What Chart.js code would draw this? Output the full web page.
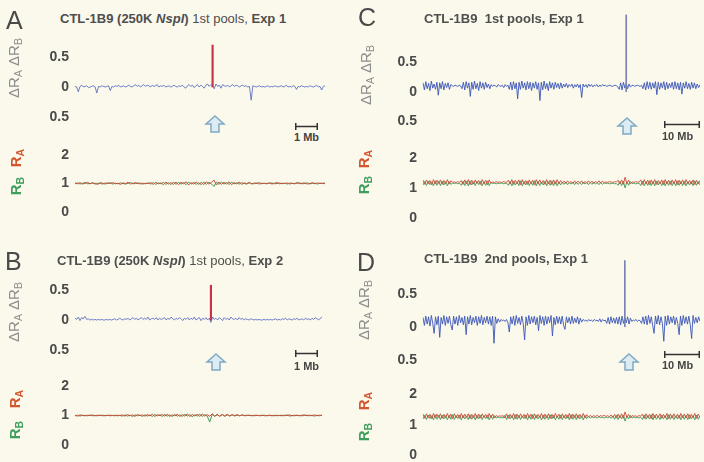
<!DOCTYPE html>
<html>
<head>
<meta charset="utf-8">
<script src="https://cdn.jsdelivr.net/npm/chart.js@4.4.0/dist/chart.umd.min.js"></script>
<style>
  body { margin: 0; background: #fbf9ec; }
  #fig { position: relative; width: 704px; height: 462px; overflow: hidden; background: #fbf9ec;
         font-family: 'Liberation Sans', Arial, sans-serif; }
  .plot { position: absolute; }
  .txt { position: absolute; white-space: nowrap; line-height: 1; }
  .letter { font-size: 25px; color: #4a4a4a; }
  .title { font-size: 13px; color: #4e4e4e; }
  .rot { position: absolute; white-space: nowrap; line-height: 1; transform: translate(-50%, -50%) rotate(-90deg); }
  .rot sub { font-size: 70%; vertical-align: -3px; }
  .dlab { font-size: 15px; color: #8c8c8c; }
  .ra { font-size: 15px; font-weight: bold; color: #d4552e; }
  .rb { font-size: 15px; font-weight: bold; color: #3e9e5c; }
  .mb { font-size: 11px; font-weight: bold; color: #444; }
  svg { position: absolute; overflow: visible; }
</style>
</head>
<body>
<div id="fig">
  <div class="txt letter" style="left:6px;top:8px">A</div>
  <div class="txt letter" style="left:358px;top:5px">C</div>
  <div class="txt letter" style="left:5px;top:249px">B</div>
  <div class="txt letter" style="left:357px;top:250px">D</div>

  <div class="txt title" style="left:60px;top:12px"><b>CTL-1B9 (250K <i>NspI</i>)</b> 1st pools, <b>Exp 1</b></div>
  <div class="txt title" style="left:424px;top:12px"><b>CTL-1B9&nbsp; 1st pools, Exp 1</b></div>
  <div class="txt title" style="left:57px;top:254px"><b>CTL-1B9 (250K <i>NspI</i>)</b> 1st pools, <b>Exp 2</b></div>
  <div class="txt title" style="left:424px;top:252px"><b>CTL-1B9&nbsp; 2nd pools, Exp 1</b></div>

  <div class="rot dlab" style="left:15px;top:68px">ΔR<sub>A</sub> ΔR<sub>B</sub></div>
  <div class="rot dlab" style="left:367px;top:75px">ΔR<sub>A</sub> ΔR<sub>B</sub></div>
  <div class="rot dlab" style="left:15px;top:312px">ΔR<sub>A</sub> ΔR<sub>B</sub></div>
  <div class="rot dlab" style="left:365px;top:310px">ΔR<sub>A</sub> ΔR<sub>B</sub></div>

  <div class="rot ra" style="left:17px;top:158px">R<sub>A</sub></div>
  <div class="rot rb" style="left:17px;top:186px">R<sub>B</sub></div>
  <div class="rot ra" style="left:365px;top:159px">R<sub>A</sub></div>
  <div class="rot rb" style="left:365px;top:185px">R<sub>B</sub></div>
  <div class="rot ra" style="left:16px;top:399px">R<sub>A</sub></div>
  <div class="rot rb" style="left:16px;top:430px">R<sub>B</sub></div>
  <div class="rot ra" style="left:365px;top:401px">R<sub>A</sub></div>
  <div class="rot rb" style="left:365px;top:432px">R<sub>B</sub></div>

  <div class="txt mb" style="left:294px;top:132px">1 Mb</div>
  <div class="txt mb" style="left:662px;top:131px">10 Mb</div>
  <div class="txt mb" style="left:294px;top:361px">1 Mb</div>
  <div class="txt mb" style="left:662px;top:360px">10 Mb</div>
</div>

<script>
// x = probe index along the chromosome window, y = signal
var aDelta = [.01,.00,-.08,.01,.03,.00,.01,.02,-.01,.00,
  .01,.02,.00,-.10,.01,.00,.02,.01,.00,.01,
  .02,-.06,.01,.00,.02,.01,.03,.00,.01,.02,
  .00,.01,.03,.01,.00,.02,.04,.01,.03,.00,
  .02,.04,.01,.03,.02,.00,.03,.01,.02,.04,
  .00,.02,.01,.03,.00,.01,.02,.00,.01,.03,
  .01,.00,.02,.01,.03,.00,-.02,.02,.04,.01,
  .03,-.01,.02,.04,.00,.03,.01,-.02,.03,.05,
  .01,.04,.02,-.03,.05,.01,.03,-.02,.04,.02,
  .01,.03,.00,.02,.04,.01,.03,.02,.00,.02,
  .03,.01,.02,.00,.01,-.22,.02,.01,.00,.01,
  .02,.00,.01,.00,.01,.02,.00,.01,.00,.02,
  .01,.00,.01,.02,.00,.01,.03,.00,.01,.00,
  .02,.01,-.04,.01,.00,.02,.01,.00,.01,.00,
  .02,.01,.00,.01,.03,.00,.01,-.05,.01,.02];
var aRatioA = [1.02,0.99,1.03,0.98,1.01,1.04,0.99,1.02,1.00,0.97,
  1.03,1.01,0.98,1.02,1.00,1.03,0.99,1.01,0.97,1.02,
  1.00,1.04,0.98,1.01,1.03,0.99,1.02,0.98,1.01,1.00,
  1.03,0.97,1.04,0.99,1.02,0.96,1.05,0.98,1.03,0.97,
  1.05,0.96,1.04,0.99,1.06,0.95,1.03,0.98,1.05,0.97,
  1.04,0.96,1.06,0.98,1.03,1.12,0.95,1.05,0.97,1.04,
  0.98,1.06,0.96,1.03,0.99,1.05,0.97,1.02,1.00,1.04,
  0.98,1.02,1.00,1.03,0.99,1.01,1.00,1.02,0.98,1.01,
  1.03,0.99,1.01,1.00,1.02,0.98,1.01,1.00,1.03,0.99,
  1.01,1.02,0.98,1.00,1.03,0.99,1.02,1.00,1.01,0.99];
var aRatioB = [0.99,1.02,0.98,1.01,1.03,0.99,1.00,1.02,0.98,1.01,
  1.00,0.98,1.02,1.00,1.03,0.98,1.01,0.99,1.02,1.00,
  0.98,1.01,1.03,0.99,1.00,1.02,0.98,1.01,0.99,1.02,
  0.98,1.03,0.97,1.02,0.99,1.04,0.97,1.03,0.96,1.05,
  0.97,1.04,0.98,1.03,0.96,1.05,0.98,1.04,0.97,1.03,
  0.96,1.05,0.97,1.04,0.99,0.90,1.04,0.97,1.05,0.98,
  1.03,0.97,1.04,0.99,1.02,0.98,1.03,1.00,0.98,1.02,
  1.00,0.99,1.02,0.98,1.01,1.00,0.99,1.01,1.02,0.99,
  1.00,1.02,0.99,1.01,0.98,1.02,1.00,0.99,1.01,1.02,
  0.99,1.00,1.02,0.99,1.00,1.01,0.98,1.01,1.00,1.02];

var bDelta = [.03,.01,.05,-.01,.04,.02,.06,.01,.02,.00,
  .01,.00,.01,.00,.01,.00,.01,.00,.00,.01,
  .00,.01,.00,.01,.02,.00,.01,.03,.01,.00,
  .02,.01,.03,.00,.02,.04,.01,.03,.00,.02,
  .04,.01,.03,.01,.05,.00,.02,.03,.01,.04,
  .00,.03,.01,.02,.04,.00,.03,.01,.05,.02,
  .00,.03,.01,.04,.02,-.01,.03,.01,.04,.00,
  .03,.01,.05,.00,.02,.04,-.01,.03,.01,.04,
  .00,.03,-.04,.05,.01,.03,.00,.04,.02,-.01,
  .04,.01,.03,.00,.05,.02,.01,.03,.00,.04,
  .01,.03,.00,.02,.01,.00,.02,.01,.00,.01,
  .00,.01,.00,.00,.01,.00,.01,.00,.01,.00,
  .01,.02,.00,.01,.00,.02,.01,.03,.00,.02,
  .01,.00,.02,.01,.03,.00,.01,.02,.00,.03,
  .01,.02,.00,.03,.01,.04,.02,.00,.03,.05];
var bRatioA = [1.01,0.98,1.02,1.00,0.99,1.01,1.00,1.02,0.99,1.01,
  1.00,1.01,0.99,1.00,1.01,1.00,0.99,1.01,1.00,1.02,
  0.98,1.03,0.99,1.02,0.97,1.03,1.00,1.02,0.98,1.03,
  0.99,1.04,0.97,1.02,1.00,1.03,0.98,1.04,0.97,1.02,
  0.99,1.04,0.97,1.03,0.98,1.05,0.97,1.03,0.99,1.04,
  0.97,1.05,0.98,1.03,0.97,1.06,0.98,1.04,0.97,1.03,
  0.99,1.04,0.98,1.02,1.00,1.03,0.99,1.02,1.00,1.01,
  1.00,0.99,1.01,1.00,1.00,1.01,0.99,1.00,1.01,1.00,
  0.99,1.01,1.00,0.99,1.01,1.00,1.02,0.99,1.01,1.00,
  0.99,1.01,1.02,0.99,1.01,1.00,1.02,0.99,1.01,1.00];
var bRatioB = [0.99,1.01,0.98,1.01,1.00,0.99,1.01,0.99,1.00,0.99,
  1.01,0.99,1.00,1.01,0.99,1.00,1.01,0.99,1.00,0.98,
  1.02,0.98,1.01,0.97,1.02,0.99,1.01,0.97,1.02,0.98,
  1.02,0.97,1.03,0.99,1.02,0.97,1.03,0.98,1.02,0.97,
  1.03,0.98,1.02,0.97,1.04,0.98,1.03,0.96,1.02,0.98,
  1.04,0.97,1.03,0.98,0.78,1.04,0.97,1.02,0.98,1.04,
  0.97,1.02,0.99,1.03,0.98,1.01,0.99,1.02,0.99,1.00,
  1.01,1.00,0.99,1.01,0.99,1.00,1.01,0.99,1.00,0.99,
  1.01,0.99,1.00,1.01,0.99,1.02,0.98,1.00,0.99,1.01,
  1.00,0.99,1.00,1.01,0.99,1.00,0.98,1.01,0.99,1.01];

var cDelta = [.15,.03,.17,.05,.14,.02,.18,.06,.13,.04,
  .16,-.06,.15,.05,.17,.03,.14,.07,.15,.04,
  .12,.10,.09,.11,.10,.09,.11,.10,.05,.16,
  .03,.17,.06,.15,-.08,.16,.04,.18,.05,.14,
  .02,.17,.06,.15,.04,.16,.07,.13,.05,.12,
  .09,.11,.10,.08,.12,.10,.09,.11,.07,.12,
  .09,.11,.04,.16,.03,.17,.05,.15,-.12,.16,
  .04,.18,.06,.15,.03,.17,.05,.16,.02,.15,
  .06,.17,.04,.15,-.15,.16,.03,.18,.05,.14,
  .02,.17,.06,.15,.04,.16,.07,.14,.05,.15,
  .06,.13,.08,.14,.07,.12,.09,.13,.06,.12,
  .08,.13,.07,.12,-.10,.13,.08,.12,.07,.13,
  .09,.12,.08,.11,.10,.12,.08,.11,.09,.12,
  .10,.11,.09,.10,.11,.10,.09,.10,.11,.10,
  .08,.04,.15,.03,.16,.06,.14,.05,.13,.08,
  .10,.11,.09,.10,.11,.10,.09,.11,.05,.15,
  .03,.17,.05,.16,.04,.15,.06,.17,-.05,.16,
  .04,.15,.06,.17,.03,.16,.05,.14,.07,.16,
  .04,.17,.05,.15,.03,.16,-.04,.15,.06,.17,
  .05,.14,.04,.16,.06,.15,.05,.13,.07,.12];
var cRatioA = [1.26,1.12,1.27,1.14,1.25,1.11,1.28,1.13,1.26,1.15,
  1.27,1.12,1.25,1.14,1.28,1.13,1.24,1.19,1.20,1.18,
  1.21,1.19,1.25,1.12,1.27,1.14,1.28,1.11,1.26,1.13,
  1.27,1.15,1.25,1.12,1.28,1.14,1.26,1.11,1.27,1.16,
  1.20,1.18,1.21,1.19,1.20,1.18,1.21,1.20,1.19,1.26,
  1.13,1.28,1.12,1.26,1.14,1.27,1.11,1.28,1.13,1.25,
  1.12,1.27,1.14,1.26,1.11,1.28,1.13,1.27,1.15,1.25,
  1.12,1.28,1.14,1.26,1.11,1.27,1.13,1.28,1.14,1.25,
  1.16,1.23,1.15,1.24,1.17,1.22,1.15,1.24,1.16,1.23,
  1.17,1.24,1.15,1.22,1.16,1.24,1.17,1.23,1.15,1.22,
  1.17,1.24,1.16,1.23,1.18,1.20,1.19,1.21,1.20,1.19,
  1.21,1.20,1.26,1.13,1.27,1.12,1.36,1.14,1.26,1.13,
  1.20,1.19,1.21,1.20,1.19,1.27,1.12,1.28,1.14,1.26,
  1.11,1.27,1.13,1.28,1.12,1.25,1.14,1.27,1.11,1.28,
  1.13,1.26,1.12,1.27,1.14,1.28,1.11,1.26,1.13,1.27,
  1.12,1.28,1.14,1.25,1.13,1.27,1.11,1.26,1.14,1.25];
var cRatioB = [1.10,1.22,1.08,1.23,1.11,1.21,1.07,1.24,1.09,1.22,
  1.08,1.23,1.10,1.21,1.07,1.22,1.12,1.16,1.15,1.17,
  1.14,1.16,1.09,1.23,1.08,1.22,1.07,1.24,1.10,1.21,
  1.08,1.23,1.11,1.22,1.07,1.21,1.09,1.24,1.08,1.19,
  1.15,1.16,1.14,1.16,1.15,1.17,1.14,1.15,1.16,1.09,
  1.22,1.07,1.23,1.10,1.21,1.08,1.24,1.07,1.22,1.10,
  1.23,1.08,1.21,1.09,1.24,1.07,1.22,1.08,1.20,1.10,
  1.23,1.07,1.21,1.09,1.24,1.08,1.22,1.07,1.21,1.10,
  1.19,1.12,1.20,1.11,1.18,1.13,1.20,1.11,1.19,1.12,
  1.18,1.11,1.20,1.13,1.19,1.11,1.18,1.12,1.20,1.13,
  1.18,1.11,1.19,1.12,1.17,1.15,1.16,1.14,1.15,1.16,
  1.14,1.15,1.09,1.22,1.08,1.23,1.00,1.21,1.09,1.22,
  1.15,1.16,1.14,1.15,1.16,1.08,1.23,1.07,1.21,1.09,
  1.24,1.08,1.22,1.07,1.23,1.10,1.21,1.08,1.24,1.07,
  1.22,1.09,1.23,1.08,1.21,1.07,1.24,1.09,1.22,1.08,
  1.23,1.07,1.21,1.10,1.22,1.08,1.24,1.09,1.21,1.10];

var dDelta = [.14,.02,.16,.04,.15,.01,.17,.05,-.10,.15,
  .03,.16,-.16,.14,.04,.17,.02,.15,.05,.16,
  .03,-.05,.16,.04,.15,.02,.17,.06,.14,.03,
  .16,-.12,.15,.04,.17,.03,.14,.06,.16,.02,
  .15,.05,.17,.03,.14,.06,.16,.04,.15,.02,
  .16,-.25,.15,.05,.12,.07,.11,.09,.10,.08,
  .11,.06,-.08,.15,.04,.16,.02,.17,.05,.14,
  .03,.16,.05,-.20,.15,.02,.17,.04,.15,.06,
  .16,.03,.14,-.06,.17,.05,.15,.02,.16,.04,
  .15,.06,.17,-.14,.14,.03,.16,.05,.15,.04,
  .16,.02,-.04,.15,.06,.14,.04,.16,.05,.13,
  .06,.15,.04,.13,.07,.11,.09,.10,.08,.11,
  .09,.10,.08,.11,.09,.10,.08,.12,.07,.11,
  .09,.10,.05,.14,.04,.15,.06,.13,.05,.14,
  .04,.15,.03,.16,.05,.14,.06,.15,.04,.13,
  .08,.10,.09,.11,.08,.10,.09,.05,.15,.04,
  .16,.03,.17,.05,.15,.02,-.10,.16,.04,.17,
  .03,.15,.05,-.22,.16,.02,.17,.04,.15,.06,
  .16,.03,.14,.05,-.12,.16,.02,.17,.05,.15,
  .04,.16,.03,-.18,.17,.05,.14,.06,.15,.08];
var dRatioA = [1.35,1.21,1.36,1.23,1.34,1.20,1.37,1.22,1.35,1.24,
  1.36,1.21,1.34,1.23,1.37,1.22,1.35,1.20,1.36,1.23,
  1.34,1.21,1.37,1.22,1.35,1.24,1.36,1.20,1.34,1.23,
  1.37,1.21,1.35,1.22,1.36,1.24,1.34,1.21,1.37,1.23,
  1.35,1.22,1.30,1.27,1.29,1.28,1.30,1.22,1.36,1.21,
  1.34,1.23,1.37,1.20,1.35,1.22,1.36,1.24,1.34,1.21,
  1.37,1.23,1.35,1.20,1.36,1.22,1.34,1.24,1.37,1.21,
  1.35,1.23,1.36,1.20,1.34,1.22,1.37,1.24,1.35,1.21,
  1.36,1.23,1.34,1.22,1.37,1.20,1.35,1.23,1.36,1.21,
  1.34,1.24,1.37,1.22,1.33,1.25,1.31,1.26,1.30,1.27,
  1.31,1.26,1.30,1.28,1.31,1.27,1.30,1.26,1.32,1.24,
  1.34,1.22,1.35,1.23,1.36,1.21,1.42,1.24,1.34,1.22,
  1.30,1.28,1.29,1.27,1.30,1.28,1.35,1.21,1.36,1.23,
  1.34,1.20,1.37,1.22,1.35,1.24,1.36,1.21,1.34,1.23,
  1.37,1.20,1.35,1.22,1.36,1.24,1.34,1.21,1.37,1.23,
  1.35,1.22,1.36,1.20,1.34,1.23,1.37,1.21,1.35,1.24];
var dRatioB = [1.19,1.31,1.17,1.32,1.20,1.30,1.16,1.33,1.18,1.31,
  1.17,1.32,1.19,1.30,1.16,1.31,1.18,1.33,1.17,1.30,
  1.20,1.32,1.16,1.31,1.19,1.29,1.17,1.33,1.18,1.30,
  1.16,1.32,1.19,1.31,1.17,1.30,1.20,1.32,1.16,1.31,
  1.18,1.30,1.22,1.25,1.23,1.24,1.22,1.31,1.17,1.32,
  1.19,1.30,1.16,1.33,1.18,1.31,1.17,1.29,1.20,1.32,
  1.16,1.30,1.18,1.33,1.17,1.31,1.19,1.29,1.16,1.32,
  1.18,1.30,1.17,1.33,1.19,1.31,1.16,1.29,1.18,1.32,
  1.17,1.30,1.19,1.31,1.16,1.33,1.18,1.30,1.17,1.32,
  1.19,1.29,1.16,1.31,1.20,1.27,1.22,1.26,1.23,1.25,
  1.22,1.26,1.23,1.24,1.22,1.25,1.23,1.26,1.21,1.29,
  1.18,1.31,1.17,1.30,1.19,1.32,1.12,1.29,1.19,1.31,
  1.22,1.25,1.23,1.24,1.22,1.25,1.17,1.32,1.18,1.30,
  1.19,1.33,1.16,1.31,1.18,1.29,1.17,1.32,1.19,1.30,
  1.16,1.33,1.18,1.31,1.17,1.29,1.19,1.32,1.16,1.30,
  1.18,1.31,1.17,1.33,1.19,1.30,1.16,1.32,1.18,1.29];

// peak at the target locus (A, B, C, D)
var spikeIndex = [82, 82, 146, 145];
var spikeValue = [0.70, 0.58, 1.30, 1.00];

var deltaTicks = [-0.5, 0, 0.5];
var deltaTickLabels = ['0.5', '0', '0.5'];
var ratioTicks = [0, 1, 2];
var ratioTickLabels = ['0', '1', '2'];

var fig = document.getElementById('fig');

function addPlot(box, lines, spike, ticks, tickLabels) {
    var top = Math.round(box.zero - box.max * box.ppu);
    var height = Math.round((box.max - box.min) * box.ppu);
    var holder = document.createElement('div');
    holder.className = 'plot';
    holder.style.left = box.left + 'px';
    holder.style.top = top + 'px';
    var canvas = document.createElement('canvas');
    canvas.width = box.width;
    canvas.height = height;
    holder.appendChild(canvas);
    fig.insertBefore(holder, fig.firstChild);

    var labels = lines[0].data.map(function (_, i) { return i; });
    var datasets = [];
    if (spike) {
        var bars = labels.map(function (i) { return i === spike.index ? spike.value : null; });
        datasets.push({ type: 'bar', data: bars, backgroundColor: spike.color, barThickness: spike.width });
    }
    lines.forEach(function (l) {
        datasets.push({ type: 'line', data: l.data, borderColor: l.color, borderWidth: l.width,
                        borderJoinStyle: 'bevel', pointRadius: 0, tension: 0, fill: false });
    });

    new Chart(canvas, {
        type: 'line',
        data: { labels: labels, datasets: datasets },
        options: {
            responsive: false,
            animation: false,
            layout: { padding: 0 },
            plugins: { legend: { display: false }, tooltip: { enabled: false } },
            scales: {
                x: { type: 'category', display: false, offset: false },
                y: {
                    min: box.min, max: box.max,
                    grid: { display: false, drawTicks: false },
                    border: { display: false },
                    afterBuildTicks: function (s) { s.ticks = ticks.map(function (v) { return { value: v }; }); },
                    afterFit: function (s) { s.width = box.axisW; s.paddingTop = 0; s.paddingBottom = 0; },
                    ticks: {
                        padding: 6,
                        color: '#4a4a4a',
                        font: { family: "'Liberation Sans', Arial, sans-serif", size: 14, weight: 'bold' },
                        callback: function (v, i) { return tickLabels[i]; }
                    }
                }
            }
        }
    });
}

var blueThin = '#4b5fbf', blueDense = '#3a55b8', red = '#d04a3a', green = '#3f9a55';

addPlot({ left: 0, width: 325, axisW: 75, zero: 87, ppu: 60, min: -0.7, max: 1.0 },
    [{ data: aDelta, color: blueThin, width: 0.8 }],
    { index: spikeIndex[0], value: spikeValue[0], color: '#cc3048', width: 1.5 }, deltaTicks, deltaTickLabels);
addPlot({ left: 0, width: 325, axisW: 75, zero: 213, ppu: 29, min: -0.3, max: 2.3 },
    [{ data: aRatioA, color: red, width: 1 }, { data: aRatioB, color: green, width: 1 }],
    null, ratioTicks, ratioTickLabels);

addPlot({ left: 0, width: 322, axisW: 75, zero: 320, ppu: 60, min: -0.7, max: 1.0 },
    [{ data: bDelta, color: blueThin, width: 0.8 }],
    { index: spikeIndex[1], value: spikeValue[1], color: '#cc3048', width: 1.5 }, deltaTicks, deltaTickLabels);
addPlot({ left: 0, width: 322, axisW: 75, zero: 445, ppu: 29.5, min: -0.3, max: 2.3 },
    [{ data: bRatioA, color: red, width: 1 }, { data: bRatioB, color: green, width: 1 }],
    null, ratioTicks, ratioTickLabels);

addPlot({ left: 352, width: 348, axisW: 71, zero: 91.5, ppu: 59, min: -0.75, max: 1.4 },
    [{ data: cDelta, color: blueDense, width: 0.9 }],
    { index: spikeIndex[2], value: spikeValue[2], color: '#7a82b4', width: 1 }, deltaTicks, deltaTickLabels);
addPlot({ left: 352, width: 348, axisW: 71, zero: 218, ppu: 30, min: -0.3, max: 2.3 },
    [{ data: cRatioA, color: red, width: 0.9 }, { data: cRatioB, color: green, width: 0.9 }],
    null, ratioTicks, ratioTickLabels);

addPlot({ left: 352, width: 348, axisW: 71, zero: 327, ppu: 66, min: -0.7, max: 1.1 },
    [{ data: dDelta, color: blueDense, width: 0.9 }],
    { index: spikeIndex[3], value: spikeValue[3], color: '#7a82b4', width: 1 }, deltaTicks, deltaTickLabels);
addPlot({ left: 352, width: 348, axisW: 71, zero: 455, ppu: 30.5, min: -0.25, max: 2.3 },
    [{ data: dRatioA, color: red, width: 0.9 }, { data: dRatioB, color: green, width: 0.9 }],
    null, ratioTicks, ratioTickLabels);

// locus arrows and scale bars
function addArrow(x, y) {
    var ns = 'http://www.w3.org/2000/svg';
    var svg = document.createElementNS(ns, 'svg');
    svg.setAttribute('width', 20); svg.setAttribute('height', 18);
    svg.style.left = x + 'px'; svg.style.top = y + 'px';
    var p = document.createElementNS(ns, 'polygon');
    p.setAttribute('points', '10,1 19,9 14,9 14,17 6,17 6,9 1,9');
    p.setAttribute('fill', '#dcecf2'); p.setAttribute('stroke', '#7fa9c4'); p.setAttribute('stroke-width', 1.5);
    svg.appendChild(p);
    fig.appendChild(svg);
}
function addBar(x, y, w) {
    var ns = 'http://www.w3.org/2000/svg';
    var svg = document.createElementNS(ns, 'svg');
    svg.setAttribute('width', w); svg.setAttribute('height', 7);
    svg.style.left = x + 'px'; svg.style.top = y + 'px';
    var path = document.createElementNS(ns, 'path');
    path.setAttribute('d', 'M0.75,0 V7 M0.75,3.5 H' + (w - 0.75) + ' M' + (w - 0.75) + ',0 V7');
    path.setAttribute('stroke', '#333'); path.setAttribute('stroke-width', 1.5); path.setAttribute('fill', 'none');
    svg.appendChild(path);
    fig.appendChild(svg);
}
addArrow(205, 115); addArrow(617, 117); addArrow(206, 353); addArrow(619, 353);
addBar(295, 123, 23); addBar(664, 121, 36); addBar(295, 350, 23); addBar(664, 351, 36);
</script>
</body>
</html>
